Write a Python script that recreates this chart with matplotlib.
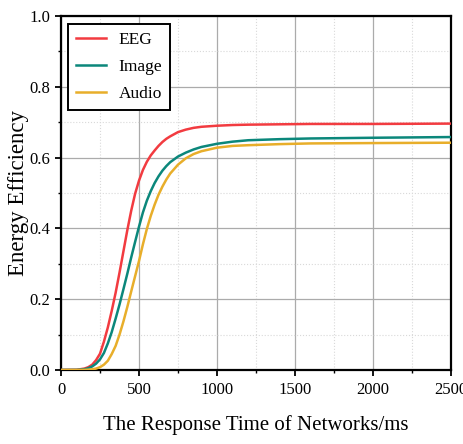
import matplotlib
matplotlib.use("Agg")
import matplotlib.pyplot as plt
from matplotlib.ticker import MultipleLocator, FormatStrFormatter

plt.rcParams['font.family'] = ['Liberation Serif', 'DejaVu Serif']

time_ms = [0, 100, 150, 175, 200, 225, 250, 275, 300, 325, 350, 375, 400, 425, 450,
           475, 500, 525, 550, 575, 600, 625, 650, 675, 700, 750, 800, 850, 900,
           1000, 1100, 1200, 1400, 1600, 2000, 2500]
eeg = [0.0, 0.0005, 0.004, 0.008, 0.015, 0.028, 0.046, 0.08, 0.12, 0.167, 0.218,
       0.275, 0.335, 0.395, 0.45, 0.498, 0.535, 0.565, 0.588, 0.606, 0.62, 0.633,
       0.644, 0.653, 0.66, 0.672, 0.679, 0.684, 0.687, 0.69, 0.692, 0.693, 0.694,
       0.695, 0.695, 0.696]
image = [0.0, 0.0003, 0.002, 0.005, 0.01, 0.018, 0.03, 0.048, 0.075, 0.107, 0.145,
         0.185, 0.228, 0.272, 0.318, 0.362, 0.405, 0.445, 0.478, 0.505, 0.528, 0.547,
         0.563, 0.576, 0.587, 0.603, 0.614, 0.623, 0.63, 0.639, 0.645, 0.649, 0.652,
         0.654, 0.656, 0.658]
audio = [0.0, 0.0, 0.0003, 0.001, 0.002, 0.004, 0.008, 0.015, 0.026, 0.045, 0.068,
         0.1, 0.137, 0.178, 0.222, 0.265, 0.308, 0.355, 0.398, 0.435, 0.467, 0.495,
         0.518, 0.538, 0.555, 0.58, 0.598, 0.61, 0.618, 0.628, 0.633, 0.635, 0.638,
         0.64, 0.641, 0.642]

series_names = ['EEG', 'Image', 'Audio']
series_colors = ['#F23B40', '#0B877B', '#E8AE2A']

fig = plt.figure(figsize=(4.64, 4.44), dpi=100)
ax = fig.add_axes([0.1315, 0.1667, 0.972 - 0.1315, 0.964 - 0.1667])

for vals, name, col in zip([eeg, image, audio], series_names, series_colors):
    ax.plot(time_ms, vals, color=col, lw=1.8, label=name, zorder=3,
            solid_joinstyle='round')

ax.set_xlim(0, 2500)
ax.set_ylim(0, 1.0)
ax.xaxis.set_major_locator(MultipleLocator(500))
ax.xaxis.set_minor_locator(MultipleLocator(250))
ax.yaxis.set_major_locator(MultipleLocator(0.2))
ax.yaxis.set_minor_locator(MultipleLocator(0.1))
ax.yaxis.set_major_formatter(FormatStrFormatter('%.1f'))

ax.grid(True, which='major', color='#ababab', lw=0.9, ls='-', zorder=0)
ax.grid(True, which='minor', color='#d9d9d9', lw=0.8, ls=':', zorder=0)
ax.set_axisbelow(True)

for s in ax.spines.values():
    s.set_linewidth(1.6)
    s.set_color('black')

ax.tick_params(which='major', direction='out', length=4, width=1.3, labelsize=12,
               top=False, right=False)
ax.tick_params(which='minor', direction='out', length=2, width=1.0,
               top=False, right=False)
ax.tick_params(axis='x', which='major', pad=5)
ax.tick_params(axis='y', which='major', pad=3.5)

ax.set_xlabel('The Response Time of Networks/ms', fontsize=15)
ax.set_ylabel('Energy Efficiency', fontsize=16.5)
ax.xaxis.set_label_coords(0.5, -0.128)
ax.yaxis.set_label_coords(-0.082, 0.5)

leg = ax.legend(loc='upper left', fontsize=12.5, frameon=True, fancybox=False,
                edgecolor='black', handlelength=1.75, borderpad=0.45,
                labelspacing=0.63, handletextpad=0.7, borderaxespad=0,
                bbox_to_anchor=(0.018, 0.977))
leg.get_frame().set_linewidth(1.4)
leg.get_frame().set_alpha(1)

fig.savefig('out.png', dpi=100)
